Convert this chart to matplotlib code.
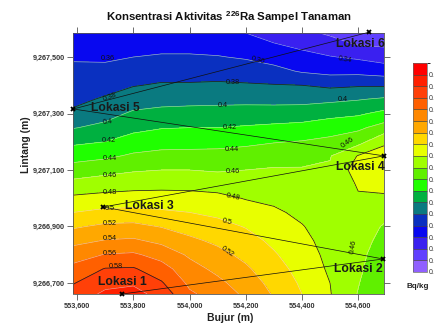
import numpy as np
import matplotlib
matplotlib.use("Agg")
import matplotlib.pyplot as plt
from matplotlib.colors import ListedColormap, BoundaryNorm

plt.rcParams['font.family'] = ['Liberation Sans', 'DejaVu Sans']
plt.rcParams['mathtext.fontset'] = 'custom'
plt.rcParams['mathtext.bf'] = 'Liberation Sans:bold'

# Grid of the surface
easting = [553587, 553700, 553800, 553900, 554000, 554100, 554200, 554300, 554400, 554500, 554600, 554692]
northing = [9267585, 9267550, 9267500, 9267450, 9267400, 9267350, 9267300, 9267250, 9267200, 9267150,
            9267100, 9267050, 9267000, 9266950, 9266900, 9266850, 9266800, 9266750, 9266700, 9266661]
col_0 = [.345,.350,.358,.364,.370,.376,.383,.399,.416,.432,.449,.466,.484,.500,.5175,.534,.551,.566,.579,.588]
col_1 = [.345,.350,.357,.365,.374,.382,.393,.405,.420,.436,.454,.470,.487,.505,.524,.541,.561,.581,.594,.604]
col_2 = [.345,.351,.360,.369,.379,.390,.403,.415,.428,.443,.458,.473,.488,.506,.525,.543,.563,.582,.597,.608]
col_3 = [.347,.353,.362,.372,.382,.393,.406,.419,.432,.446,.460,.474,.488,.503,.519,.535,.553,.568,.582,.592]
col_4 = [.347,.353,.362,.372,.382,.394,.407,.420,.433,.446,.460,.474,.487,.500,.512,.524,.537,.548,.556,.563]
col_5 = [.343,.351,.361,.372,.383,.395,.407,.420,.434,.446,.458,.472,.485,.496,.506,.516,.526,.535,.545,.552]
col_6 = [.340,.348,.358,.370,.382,.395,.408,.422,.436,.448,.460,.469,.479,.489,.499,.507,.515,.523,.530,.536]
col_7 = [.331,.340,.352,.366,.381,.394,.409,.424,.439,.451,.462,.469,.476,.483,.490,.496,.502,.508,.514,.518]
col_8 = [.325,.334,.346,.358,.380,.394,.410,.426,.441,.452,.462,.467,.472,.476,.481,.485,.489,.493,.497,.500]
col_9 = [.317,.327,.341,.354,.376,.396,.414,.431,.445,.459,.462,.464,.466,.469,.471,.473,.475,.477,.480,.481]
col_10 = [.303,.317,.337,.354,.378,.399,.417,.436,.453,.481,.490,.482,.478,.475,.472,.469,.466,.464,.461,.459]
col_11 = [.300,.315,.332,.350,.378,.403,.425,.448,.476,.490,.495,.488,.476,.467,.458,.453,.448,.445,.443,.442]

levels = [.28,.30,.32,.34,.36,.38,.40,.42,.44,.46,.48,.50,.52,.54,.56,.58,.60,.62,.64]
band_colors = ['#9060ff','#6040ff','#3a20f0','#0808f0','#0a30c0','#0a7a80','#00b040','#20ff00','#60f000',
               '#a0ff00','#e8ff00','#ffd800','#ffa800','#ff8800','#ff6000','#ff4008','#ff2000','#ff0000']
dark_levels = [.38,.48,.58]
light_levels = [.32,.34,.36,.40,.42,.44,.46,.50,.52,.54,.56,.60]
colorbar_text = ['0.'] * 18

site_names = ['Lokasi 1','Lokasi 2','Lokasi 3','Lokasi 4','Lokasi 5','Lokasi 6']
site_x = [553760, 554689, 553693, 554692, 553586, 554639]
site_y = [9266661, 9266785, 9266969, 9267150, 9267316, 9267588]
site_label_x = [553762, 554600, 553856, 554607, 553736, 554607]
site_label_y = [9266703, 9266750, 9266972, 9267110, 9267320, 9267545]

contour_text = ['0.36','0.36','0.34','0.38','0.38','0.4','0.4','0.4','0.42','0.42','0.44','0.44','0.46','0.46','0.46','0.46',
                '0.48','0.48','0.5','0.5','0.52','0.52','0.54','0.56','0.58']
contour_x = [553710,554244,554554,553717,554155,553710,554120,554547,553714,554144,553717,554152,553717,554155,554564,554582,
             553717,554155,553717,554134,553717,554134,553717,553717,553739]
contour_y = [9267493,9267489,9267489,9267358,9267411,9267270,9267330,9267351,9267203,9267252,9267139,9267174,9267079,9267093,9267196,9266827,
             9267019,9267004,9266962,9266916,9266909,9266810,9266859,9266806,9266757]
contour_rot = [0,-15,-10,20,0,5,0,0,0,0,0,0,0,0,35,80,0,-12,0,-15,0,-35,0,0,0]

x_ticks = [553600,553800,554000,554200,554400,554600]
y_ticks = [9266700,9266900,9267100,9267300,9267500]

W, H = 435, 328
fig = plt.figure(figsize=(W/100, H/100), dpi=100)
ax = fig.add_axes([73.5/W, 1-294/H, 310.5/W, 261/H])

Z = np.array([col_0,col_1,col_2,col_3,col_4,col_5,col_6,col_7,col_8,col_9,col_10,col_11]).T
cmap = ListedColormap(band_colors)
norm = BoundaryNorm(levels, cmap.N)
cf = ax.contourf(easting, northing, Z, levels=levels, cmap=cmap, norm=norm)
ax.contour(easting, northing, Z, levels=light_levels, colors='#e8e8e0', linewidths=0.45, alpha=0.7)
ax.contour(easting, northing, Z, levels=dark_levels, colors='#202020', linewidths=0.55)

routes = [(4,5),(4,3),(2,3),(2,1),(0,1)]
for a, b in routes:
    ax.plot([site_x[a],site_x[b]],[site_y[a],site_y[b]],color='#101010',lw=0.5,clip_on=False,zorder=4)
ax.plot(site_x, site_y, ls='none', marker='x', ms=3.2, mew=1.3, color='black', clip_on=False, zorder=5)

for t,x,y,r in zip(contour_text,contour_x,contour_y,contour_rot):
    ax.text(x,y,t,fontsize=5.2,color='#101010',ha='center',va='center',rotation=r,zorder=6)
for n,x,y in zip(site_names,site_label_x,site_label_y):
    ax.text(x,y,n,fontsize=8.7,color='#1a1a1a',ha='center',va='center',zorder=7,clip_on=False,fontweight='bold')

ax.set_xlim(553587,554692)
ax.set_ylim(9266661,9267585)
ax.set_xticks(x_ticks)
ax.set_xticklabels([f'{v:,}' for v in x_ticks])
ax.set_yticks(y_ticks)
ax.set_yticklabels([f'{v:,}' for v in y_ticks])
ax.tick_params(top=True,right=True,direction='out',length=4,width=0.6,color='#555555',labelsize=5.2,labelcolor='#333333',pad=2.5)
for lab in ax.get_xticklabels()+ax.get_yticklabels():
    lab.set_fontweight('bold')
for s in ax.spines.values():
    s.set_color('#555555'); s.set_linewidth(0.6)

fig.text(229/W,1-17/H,r'Konsentrasi Aktivitas $\mathbf{^{226}}$Ra Sampel Tanaman',fontsize=8.2,fontweight='bold',ha='center',va='center',color='#111111')
fig.text(230/W,1-318/H,'Bujur (m)',fontsize=7.5,fontweight='bold',ha='center',va='center',color='#222222')
fig.text(26/W,1-145/H,'Lintang (m)',fontsize=7.5,fontweight='bold',ha='center',va='center',rotation=90,color='#222222')
fig.text(418/W,1-286/H,'Bq/kg',fontsize=5.8,fontweight='bold',ha='center',va='center',color='#222222')

cax = fig.add_axes([413.5/W, 1-272/H, 13.5/W, 209/H])
cb = fig.colorbar(cf, cax=cax, drawedges=True, spacing='uniform')
cb.set_ticks(levels[:-1])
cb.set_ticklabels(colorbar_text)
cb.ax.tick_params(length=0,labelsize=5,labelcolor='#333333',pad=1.5)
cb.outline.set_edgecolor('#666666'); cb.outline.set_linewidth(0.5)
cb.dividers.set_color('#444444'); cb.dividers.set_linewidth(0.5)

fig.savefig('out.png',dpi=100)
